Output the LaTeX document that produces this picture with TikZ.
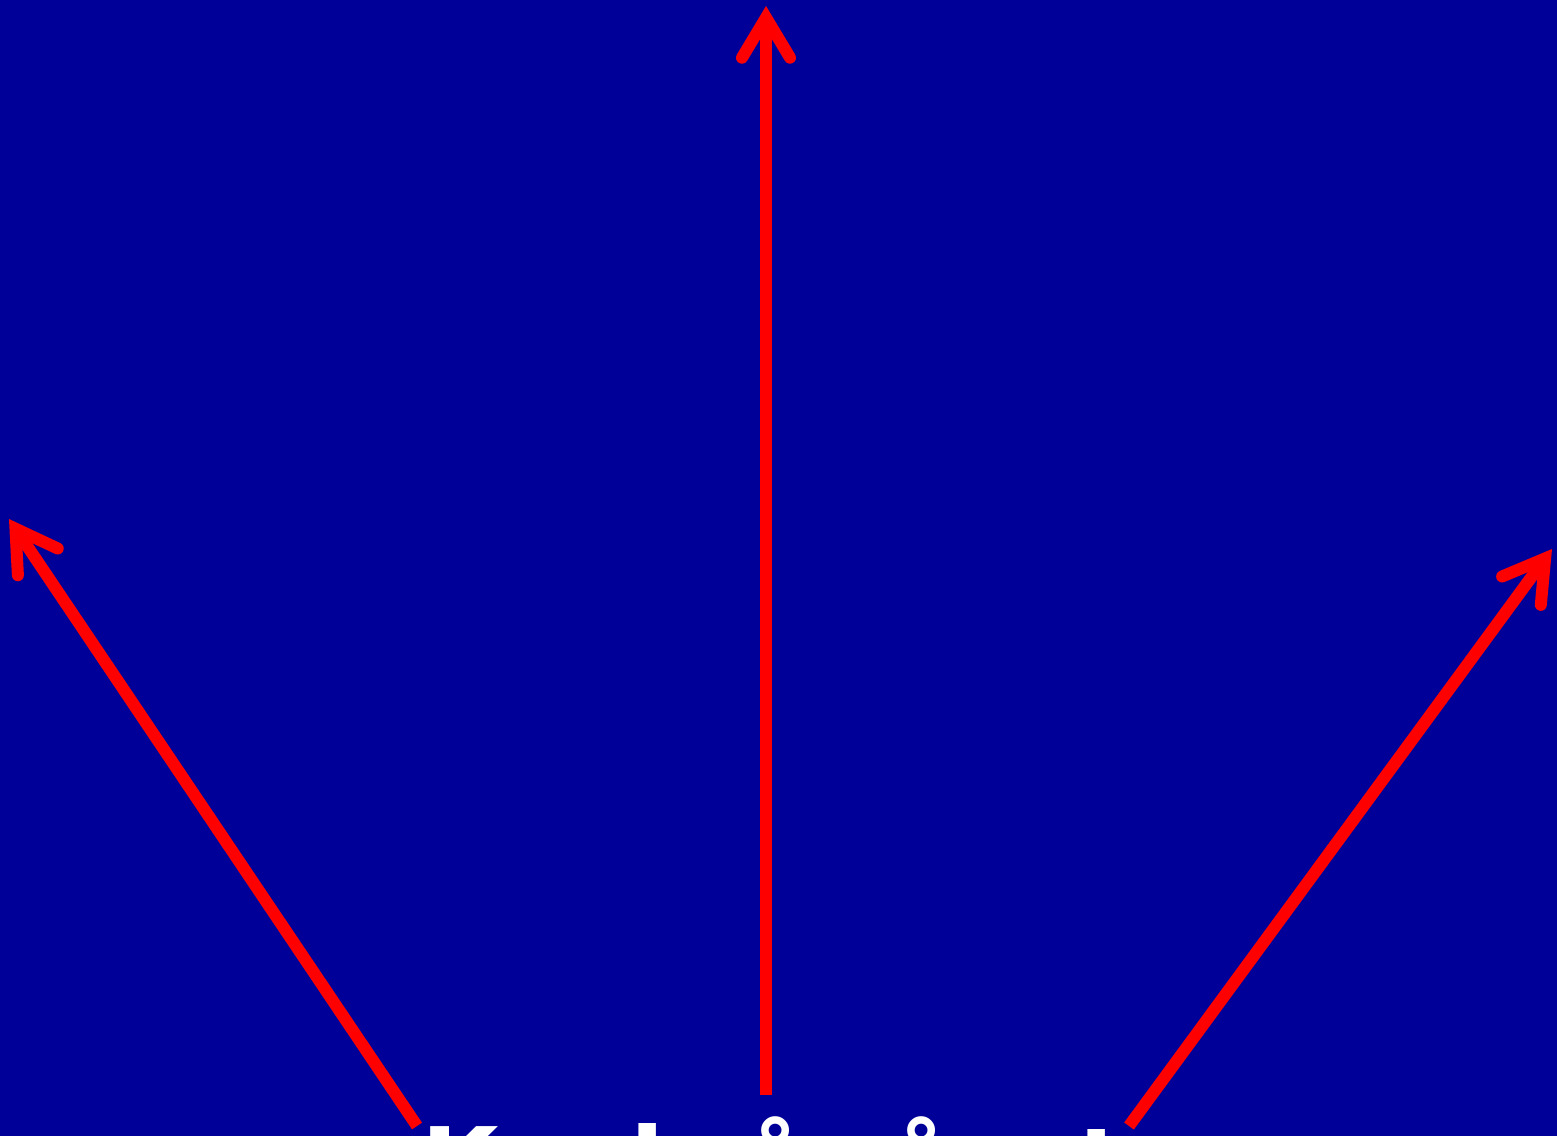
\documentclass[tikz,border=0pt]{standalone}
\usepackage{fontspec}
\setmainfont{DejaVu Sans}
\usetikzlibrary{arrows.meta}
\definecolor{bgblue}{RGB}{0,0,153}
\definecolor{arred}{RGB}{255,0,0}
\tikzset{
  redarrow/.style={draw=arred, line width=12pt, line cap=butt,
    -{Straight Barb[length=40pt,width=48pt,line cap=round,line join=miter]}},
  glyph/.style={text=white, inner sep=0pt, anchor=base,
    font=\bfseries\fontsize{100}{100}\selectfont}
}
\begin{document}
\begin{tikzpicture}[x=1pt,y=-1pt]
\useasboundingbox (0,0) rectangle (1557,1136);
\clip (0,0) rectangle (1557,1136);
\fill[bgblue] (0,0) rectangle (1557,1136);
% arrow end points
\coordinate (cb) at (766,1095);
\coordinate (ct) at (766,6);
\coordinate (lb) at (417,1126);
\coordinate (lt) at (9,519);
\coordinate (rb) at (1129,1126);
\coordinate (rt) at (1552,549);
\draw[redarrow] (cb) -- (ct);
\draw[redarrow] (lb) -- (lt);
\draw[redarrow] (rb) -- (rt);
% cut-off text at the bottom edge
\node[glyph] (t1) at (460,1199) {K};
\node[glyph] (t2) at (648,1199) {l};
\node[glyph] (t3) at (775,1205) {å};
\node[glyph] (t4) at (921,1205) {å};
\node[glyph] (t5) at (1097,1205) {i};
\end{tikzpicture}
\end{document}
